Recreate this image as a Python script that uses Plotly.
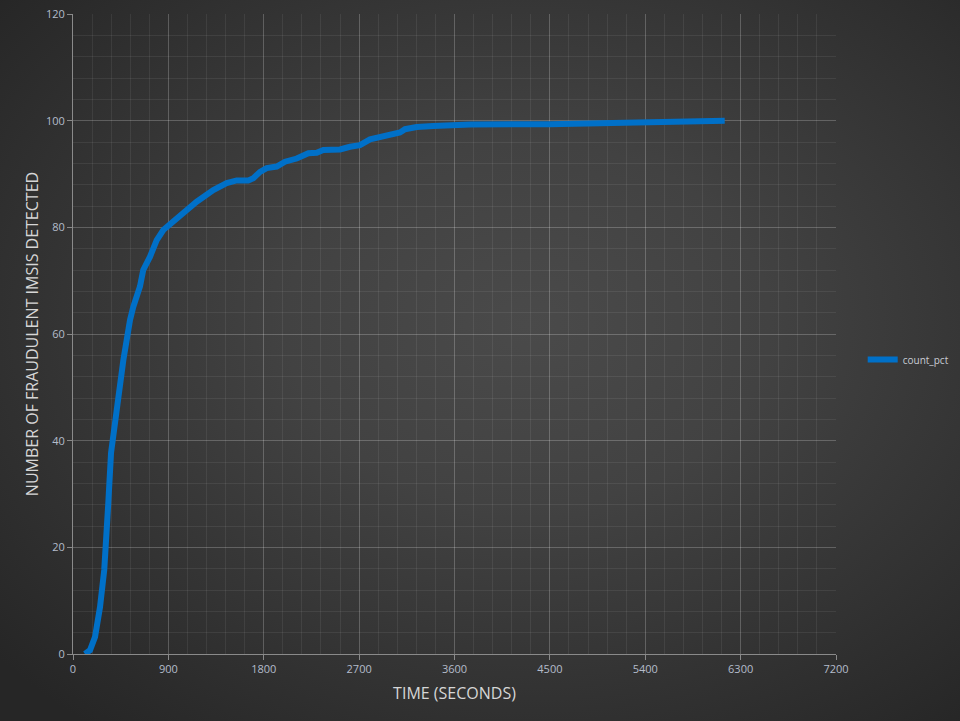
import plotly.graph_objects as go

# ---- data ----
time_s = [113, 160, 208, 255, 295, 318, 333, 359, 396, 444, 475, 538, 569, 632, 663,
          727, 790, 852, 931, 994, 1057, 1167, 1324, 1450, 1545, 1654, 1702, 1765,
          1828, 1922, 2001, 2111, 2221, 2300, 2362, 2520, 2614, 2708, 2803, 2897,
          2992, 3086, 3133, 3243, 3400, 3558, 3747, 4500, 5000, 5600, 6150]
count_pct = [0.0, 0.7, 3.2, 8.8, 15.8, 21.9, 28.3, 37.7, 43.9, 51.4, 55.1, 62.6, 65.1,
             68.9, 72.0, 74.5, 77.6, 79.5, 80.8, 82.0, 83.0, 84.8, 87.0, 88.3, 88.8,
             88.8, 89.2, 90.4, 91.1, 91.4, 92.3, 92.9, 93.9, 94.0, 94.5, 94.6, 95.1,
             95.4, 96.5, 96.9, 97.5, 97.8, 98.4, 98.8, 99.0, 99.1, 99.3, 99.35, 99.5,
             99.7, 100.0]
x_ticks = [0, 900, 1800, 2700, 3600, 4500, 5400, 6300, 7200]
y_ticks = [0, 20, 40, 60, 80, 100, 120]

W, H = 960, 721
L, R, T, B = 73, 124, 14, 67
pw, ph = W - L - R, H - T - B

svg = (
    "data:image/svg+xml;utf8,"
    "<svg xmlns='http://www.w3.org/2000/svg' width='960' height='721'>"
    "<defs><radialGradient id='g' cx='55%25' cy='45%25' r='72%25'>"
    "<stop offset='0' stop-color='%234a4a4a'/>"
    "<stop offset='0.35' stop-color='%23424242'/>"
    "<stop offset='1' stop-color='%23262626'/>"
    "</radialGradient></defs>"
    "<rect width='960' height='721' fill='url(%23g)'/></svg>"
)

fig = go.Figure()
fig.add_trace(go.Scatter(
    x=time_s, y=count_pct, mode="lines", name="count_pct",
    line=dict(color="#0070C8", width=6),
))

axis_common = dict(
    showline=True, linecolor="#8a8a8a", linewidth=1,
    ticks="outside", ticklen=5, tickcolor="#8a8a8a",
    gridcolor="rgba(255,255,255,0.16)", gridwidth=1,
    zeroline=False,
    tickfont=dict(family="Open Sans", size=11, color="#b4bccb"),
)

fig.update_xaxes(
    range=[0, 7200], tickvals=x_ticks, ticktext=[str(v) for v in x_ticks],
    minor=dict(dtick=180, showgrid=True, gridcolor="rgba(255,255,255,0.07)", ticks=""),
    title=dict(text="TIME (SECONDS)", font=dict(family="Open Sans", size=16, color="#d6d6d6"),
               standoff=12),
    **axis_common,
)
fig.update_yaxes(
    range=[0, 120], tickvals=y_ticks, ticktext=[str(v) for v in y_ticks],
    minor=dict(dtick=4, showgrid=True, gridcolor="rgba(255,255,255,0.07)", ticks=""),
    title=dict(text="NUMBER OF FRAUDULENT IMSIS DETECTED",
               font=dict(family="Open Sans", size=16, color="#d6d6d6"), standoff=3),
    **axis_common,
)

fig.update_layout(
    width=W, height=H,
    margin=dict(l=L, r=R, t=T, b=B, autoexpand=False),
    paper_bgcolor="#333333",
    plot_bgcolor="rgba(0,0,0,0)",
    showlegend=True,
    legend=dict(x=1.035, y=0.46, xanchor="left", yanchor="middle",
                bgcolor="rgba(0,0,0,0)", itemwidth=30,
                font=dict(family="Open Sans", size=10, color="#c8ccd4")),
    images=[dict(source=svg, xref="paper", yref="paper",
                 x=-L / pw, y=1 + T / ph, sizex=W / pw, sizey=H / ph,
                 xanchor="left", yanchor="top", sizing="stretch", layer="below")],
)

fig.write_html("out.html", config={"displayModeBar": False},
               post_script="document.body.style.margin='0';document.body.style.overflow='hidden';")
